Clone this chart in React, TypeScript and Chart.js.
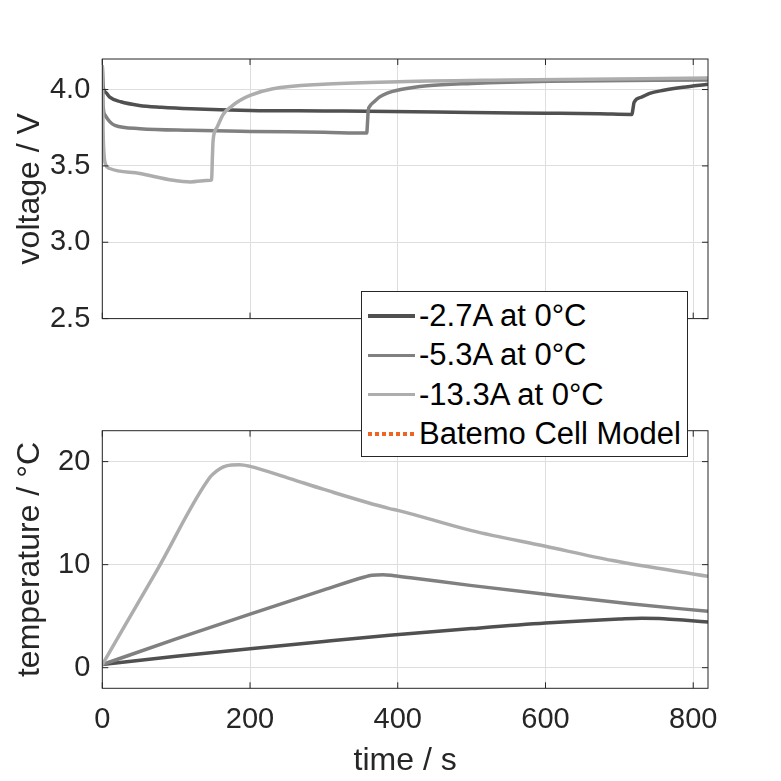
import React, { useEffect, useRef } from "react";
import { Chart, registerables } from "chart.js";

Chart.register(...registerables);

// ---------- data ----------
const timeTicks = [0, 200, 400, 600, 800];
const voltageTicks = [2.5, 3.0, 3.5, 4.0];
const tempTicks = [0, 10, 20];

const seriesLabels = ["-2.7A at 0°C", "-5.3A at 0°C", "-13.3A at 0°C"];
const modelLabel = "Batemo Cell Model";
const seriesColors = ["#505050", "#808080", "#adadad"];
const modelColor = "#EE6420";

// voltage [time s, voltage V]
const voltage27: [number, number][] = [
  [0, 4.15], [1, 4.02], [5, 3.98], [10, 3.95], [25, 3.92], [50, 3.896], [80, 3.884],
  [120, 3.874], [200, 3.863], [300, 3.86], [390, 3.857], [500, 3.85], [600, 3.845],
  [673, 3.841], [717, 3.837], [718, 3.86], [720, 3.917], [730, 3.95], [741, 3.975],
  [760, 3.995], [786, 4.015], [820, 4.035],
];
const voltage53: [number, number][] = [
  [0, 4.15], [1, 3.9], [4, 3.83], [10, 3.79], [17, 3.765], [51, 3.744], [119, 3.733],
  [200, 3.726], [300, 3.72], [358, 3.715], [359, 3.78], [360, 3.86], [362, 3.89],
  [368, 3.92], [375, 3.95], [385, 3.975], [404, 4.0], [440, 4.025], [500, 4.04],
  [606, 4.054], [820, 4.063],
];
const voltage133: [number, number][] = [
  [0, 4.16], [1, 3.75], [2, 3.6], [4, 3.515], [10, 3.483], [51, 3.45], [96, 3.406],
  [119, 3.395], [146, 3.406], [148, 3.41], [149, 3.55], [150, 3.667], [155, 3.75],
  [164, 3.84], [175, 3.89], [186, 3.928], [200, 3.962], [231, 4.005], [299, 4.035],
  [389, 4.05], [550, 4.062], [820, 4.075],
];

// temperature [time s, temperature °C]
const temp27: [number, number][] = [
  [0, 0.3], [100, 1.1], [200, 1.84], [300, 2.55], [389, 3.15], [500, 3.8], [600, 4.33],
  [700, 4.72], [730, 4.8], [760, 4.76], [790, 4.6], [820, 4.43],
];
const temp53: [number, number][] = [
  [0, 0.3], [100, 2.8], [200, 5.2], [300, 7.55], [355, 8.8], [365, 8.97], [380, 9.03],
  [395, 8.92], [420, 8.7], [498, 7.99], [600, 7.12], [714, 6.2], [820, 5.47],
];
const temp133: [number, number][] = [
  [0, 0.3], [74, 9.45], [146, 18.5], [155, 19.1], [164, 19.5], [175, 19.68], [186, 19.7],
  [200, 19.54], [254, 18.35], [300, 17.3], [389, 15.44], [400, 15.27], [500, 13.3],
  [600, 11.78], [691, 10.4], [820, 8.86],
];

const voltageSeries = [voltage27, voltage53, voltage133];
const tempSeries = [temp27, temp53, temp133];

// ---------- styling ----------
const FONT = '"Liberation Sans", Arial, Helvetica, sans-serif';
const AX = "#262626";
const GRID = "#dedede";
const W = 781;
const PLOT_LEFT = 102.3;
const PLOT_RIGHT = 708;

const boxPlugin = {
  id: "matlabBox",
  afterDraw(chart: any) {
    const { ctx, chartArea: a, scales } = chart;
    ctx.save();
    ctx.strokeStyle = AX;
    ctx.lineWidth = 1;
    ctx.strokeRect(a.left, a.top, a.right - a.left, a.bottom - a.top);
    const L = 6;
    ctx.beginPath();
    scales.x.ticks.forEach((t: any) => {
      const px = scales.x.getPixelForValue(t.value);
      ctx.moveTo(px, a.bottom);
      ctx.lineTo(px, a.bottom - L);
      ctx.moveTo(px, a.top);
      ctx.lineTo(px, a.top + L);
    });
    scales.y.ticks.forEach((t: any) => {
      const py = scales.y.getPixelForValue(t.value);
      ctx.moveTo(a.left, py);
      ctx.lineTo(a.left + L, py);
      ctx.moveTo(a.right, py);
      ctx.lineTo(a.right - L, py);
    });
    ctx.stroke();
    ctx.restore();
  },
};

function buildDatasets(series: [number, number][][]) {
  return series.map((s, i) => ({
    label: seriesLabels[i],
    data: s.map(([x, y]) => ({ x, y })),
    borderColor: seriesColors[i],
    backgroundColor: seriesColors[i],
    borderWidth: 3.5,
    pointRadius: 0,
    cubicInterpolationMode: "monotone" as const,
    order: 2 - i,
  }));
}

function buildOptions(cfg: {
  yMin: number; yMax: number; yTicks: number[]; yTitle: string; yFmt: (v: number) => string;
  showX: boolean; padTop: number; padBottom: number; xHeight: number;
}) {
  return {
    responsive: false,
    animation: false as const,
    layout: { padding: { top: cfg.padTop, right: W - PLOT_RIGHT, bottom: cfg.padBottom, left: 0 } },
    plugins: { legend: { display: false }, tooltip: { enabled: false } },
    scales: {
      x: {
        type: "linear" as const,
        min: 0,
        max: 820,
        afterBuildTicks: (s: any) => { s.ticks = timeTicks.map((v) => ({ value: v })); },
        afterFit: (s: any) => { s.height = cfg.xHeight; },
        grid: { color: GRID, lineWidth: 1, drawTicks: false },
        border: { display: false },
        ticks: {
          display: cfg.showX,
          padding: 14,
          color: AX,
          font: { family: FONT, size: 29 },
          maxRotation: 0,
          callback: (v: any) => String(v),
        },
        title: {
          display: cfg.showX,
          text: "time / s",
          color: AX,
          font: { family: FONT, size: 32 },
          padding: { top: 0, bottom: 1 },
        },
      },
      y: {
        type: "linear" as const,
        min: cfg.yMin,
        max: cfg.yMax,
        afterBuildTicks: (s: any) => { s.ticks = cfg.yTicks.map((v) => ({ value: v })); },
        afterFit: (s: any) => { s.width = PLOT_LEFT; },
        grid: { color: GRID, lineWidth: 1, drawTicks: false },
        border: { display: false },
        ticks: {
          padding: 12,
          color: AX,
          font: { family: FONT, size: 29 },
          callback: (v: any) => cfg.yFmt(Number(v)),
        },
        title: {
          display: true,
          text: cfg.yTitle,
          color: AX,
          font: { family: FONT, size: 32 },
          padding: { top: 11, bottom: 0 },
        },
      },
    },
  };
}

export default function App() {
  const topRef = useRef<HTMLCanvasElement>(null);
  const botRef = useRef<HTMLCanvasElement>(null);

  useEffect(() => {
    const top = new Chart(topRef.current as HTMLCanvasElement, {
      type: "line",
      data: { datasets: buildDatasets(voltageSeries) as any },
      options: buildOptions({
        yMin: 2.5, yMax: 4.2, yTicks: voltageTicks, yTitle: "voltage / V",
        yFmt: (v) => v.toFixed(1), showX: false, padTop: 59, padBottom: 0, xHeight: 0,
      }) as any,
      plugins: [boxPlugin],
    });
    const bot = new Chart(botRef.current as HTMLCanvasElement, {
      type: "line",
      data: { datasets: buildDatasets(tempSeries) as any },
      options: buildOptions({
        yMin: -2, yMax: 23, yTicks: tempTicks, yTitle: "temperature / °C",
        yFmt: (v) => String(v), showX: true, padTop: 50.7, padBottom: 0, xHeight: 92.7,
      }) as any,
      plugins: [boxPlugin],
    });
    return () => { top.destroy(); bot.destroy(); };
  }, []);

  const legendRows = [
    ...seriesLabels.map((l, i) => ({ label: l, color: seriesColors[i], dotted: false })),
    { label: modelLabel, color: modelColor, dotted: true },
  ];

  return (
    <div style={{ position: "fixed", left: 0, top: 0, width: W, height: W, background: "#fff" }}>
      <canvas ref={topRef} width={W} height={348} style={{ position: "absolute", left: 0, top: 0 }} />
      <canvas ref={botRef} width={W} height={401} style={{ position: "absolute", left: 0, top: 380 }} />
      <div
        style={{
          position: "absolute", left: 361, top: 291, width: 325, height: 164,
          border: `1px solid ${AX}`, background: "#fff", fontFamily: FONT, fontSize: 31,
          color: "#000", boxSizing: "content-box",
        }}
      >
        {legendRows.map((r, i) => (
          <div
            key={i}
            style={{ position: "absolute", left: 0, top: 4 + i * 39.3, height: 40, width: "100%", display: "flex", alignItems: "center" }}
          >
            <div
              style={{
                marginLeft: 6, width: 47, height: 3.5,
                background: r.dotted
                  ? `repeating-linear-gradient(to right, ${r.color} 0 4px, transparent 4px 7px)`
                  : r.color,
              }}
            />
            <span style={{ marginLeft: 4, whiteSpace: "nowrap", lineHeight: "40px" }}>{r.label}</span>
          </div>
        ))}
      </div>
    </div>
  );
}
